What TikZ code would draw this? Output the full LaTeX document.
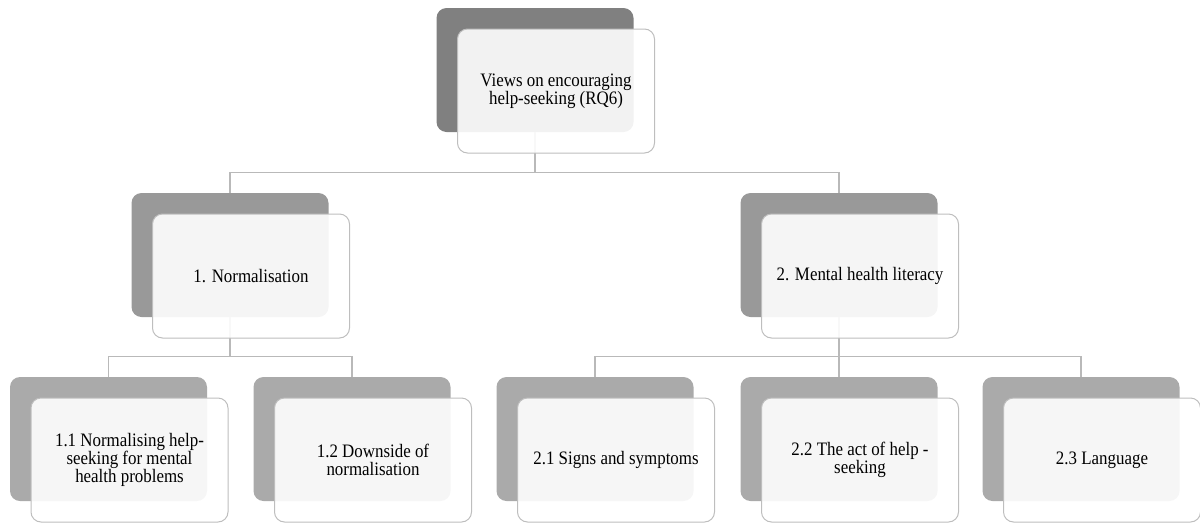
\documentclass[tikz,border=0pt]{standalone}
\usepackage{fontspec}
\setmainfont{Liberation Serif}[FakeStretch=0.89]
\usetikzlibrary{positioning}
\definecolor{topgray}{RGB}{128,128,128}
\definecolor{midgray}{RGB}{153,153,153}
\definecolor{lowgray}{RGB}{170,170,170}
\definecolor{frontline}{RGB}{190,190,190}
\definecolor{linkgray}{RGB}{185,185,185}

\begin{document}
\begin{tikzpicture}
  [
    x=1pt, y=-1pt,
    back/.style  = {rectangle, rounded corners=10pt, minimum width=197pt, minimum height=124pt, inner sep=0pt},
    front/.style = {rectangle, rounded corners=10pt, draw=frontline, line width=1pt, fill=white, fill opacity=0.9, text opacity=1, minimum width=197pt, minimum height=124pt, inner sep=0pt, align=center, font=\fontsize{19}{18}\selectfont},
    link/.style  = {draw=linkgray, line width=1.3pt},
  ]

  \useasboundingbox (0,0) rectangle (1200,523);

  \def\off{21}

  % back cards
  \node (view) at (535,70) [back, fill=topgray] {};
  \node (norm) at (230,255) [back, fill=midgray] {};
  \node (mhl)  at (839,255) [back, fill=midgray] {};
  \node (nhelp) at (108.5,439) [back, fill=lowgray] {};
  \node (ndown) at (352,439) [back, fill=lowgray] {};
  \node (signs) at (595,439) [back, fill=lowgray] {};
  \node (act)   at (839,439) [back, fill=lowgray] {};
  \node (lang)  at (1081,439) [back, fill=lowgray] {};

  % connectors
  \draw[link] (view.south) |- ([yshift=20pt]norm.north) -- (norm.north);
  \draw[link] (view.south) |- ([yshift=20pt]mhl.north) -- (mhl.north);
  \draw[link] (norm.south) |- ([yshift=20pt]nhelp.north) -- (nhelp.north);
  \draw[link] (norm.south) |- ([yshift=20pt]ndown.north) -- (ndown.north);
  \draw[link] (mhl.south) |- ([yshift=20pt]signs.north) -- (signs.north);
  \draw[link] (mhl.south) -- (act.north);
  \draw[link] (mhl.south) |- ([yshift=20pt]lang.north) -- (lang.north);

  % front cards
  \node (viewf)  at ([shift={(\off,\off)}]view.center)  [front] {Views on encouraging\\help-seeking (RQ6)};
  \node (normf)  at ([shift={(\off,\off)}]norm.center)  [front] {1. Normalisation};
  \node (mhlf)   at ([shift={(\off,\off)}]mhl.center)   [front] {2. Mental health literacy};
  \node (nhelpf) at ([shift={(\off,\off)}]nhelp.center) [front] {1.1 Normalising help-\\seeking for mental\\health problems};
  \node (ndownf) at ([shift={(\off,\off)}]ndown.center) [front] {1.2 Downside of\\normalisation};
  \node (signsf) at ([shift={(\off,\off)}]signs.center) [front] {2.1 Signs and symptoms};
  \node (actf)   at ([shift={(\off,\off)}]act.center)   [front] {2.2 The act of help -\\seeking};
  \node (langf)  at ([shift={(\off,\off)}]lang.center)  [front] {2.3 Language};

\end{tikzpicture}
\end{document}
